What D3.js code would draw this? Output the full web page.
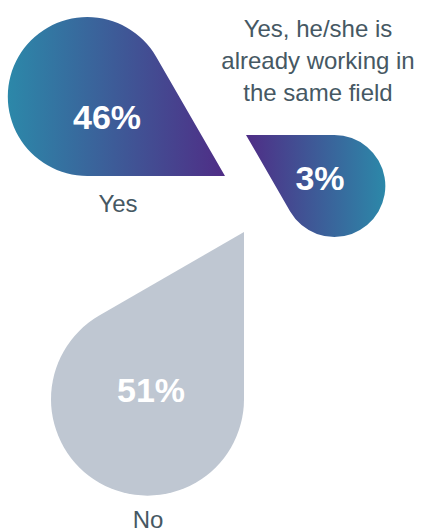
<!DOCTYPE html>
<html>
<head>
<meta charset="utf-8">
<script src="https://cdn.jsdelivr.net/npm/d3@7"></script>
<style>
  html, body { margin: 0; padding: 0; background: #fff; }
  svg { display: block; }
</style>
</head>
<body>
<svg id="chart"></svg>
<script>
// data
var categories = ["Yes", "Yes, he/she is already working in the same field", "No"];
var values = [46, 3, 51];
var labelLines = [["Yes"], ["Yes, he/she is", "already working in", "the same field"], ["No"]];

var width = 425, height = 532;
var svg = d3.select("#chart").attr("width", width).attr("height", height);

// drop size from value (decorative, piecewise)
var rscale = d3.scaleLinear().domain([3, 46, 51]).range([51, 79.5, 96.5]);

// layout: tip of each drop, direction from circle centre to tip (deg), label spots
var layout = [
    { tip: [225, 176], dir: 30, pct: [107, 129], lab: [118, 212], fill: "gradA" },
    { tip: [246, 135], dir: 210, pct: [320, 190], lab: [318, 37], fill: "gradB" },
    { tip: [244, 232], dir: 300, pct: [151, 402], lab: [148, 528], fill: "grey" }
];

var teal = "#2c88a9", purple = "#4f2d86", grey = "#bfc7d2", textCol = "#465863";

var defs = svg.append("defs");
function gradient(id, c0, c1) {
    var g = defs.append("linearGradient").attr("id", id)
        .attr("x1", "0%").attr("y1", "0%").attr("x2", "100%").attr("y2", "0%");
    g.append("stop").attr("offset", "0%").attr("stop-color", c0);
    g.append("stop").attr("offset", "100%").attr("stop-color", c1);
}
gradient("gradA", teal, purple);
gradient("gradB", purple, teal);

function dropPath(d, i) {
    var L = layout[i];
    var r = rscale(d);
    var a = L.dir * Math.PI / 180;
    var cx = L.tip[0] - 2 * r * Math.cos(a);
    var cy = L.tip[1] - 2 * r * Math.sin(a);
    var p = d3.path();
    p.moveTo(L.tip[0], L.tip[1]);
    p.arc(cx, cy, r, a + Math.PI / 3, a + 5 * Math.PI / 3, false);
    p.closePath();
    return p.toString();
}

var g = svg.append("g");

g.selectAll("path.drop")
    .data(values)
    .enter()
    .append("path")
    .attr("class", "drop")
    .attr("d", dropPath)
    .attr("fill", function (d, i) {
        return layout[i].fill === "grey" ? grey : "url(#" + layout[i].fill + ")";
    });

g.selectAll("text.pct")
    .data(values)
    .enter()
    .append("text")
    .attr("class", "pct")
    .attr("x", function (d, i) { return layout[i].pct[0]; })
    .attr("y", function (d, i) { return layout[i].pct[1]; })
    .attr("text-anchor", "middle")
    .style("font-family", "'Liberation Sans', Arial, sans-serif")
    .style("font-weight", "bold")
    .style("font-size", "34px")
    .style("fill", "#fff")
    .text(function (d) { return d + "%"; });

var labels = g.selectAll("text.lab")
    .data(categories)
    .enter()
    .append("text")
    .attr("class", "lab")
    .attr("text-anchor", "middle")
    .style("font-family", "'Liberation Sans', Arial, sans-serif")
    .style("font-size", "24px")
    .style("fill", textCol);

labels.selectAll("tspan")
    .data(function (d, i) { return labelLines[i].map(function (t) { return { t: t, i: i }; }); })
    .enter()
    .append("tspan")
    .attr("x", function (d) { return layout[d.i].lab[0]; })
    .attr("y", function (d, j) { return layout[d.i].lab[1] + j * 32; })
    .text(function (d) { return d.t; });
</script>
</body>
</html>
